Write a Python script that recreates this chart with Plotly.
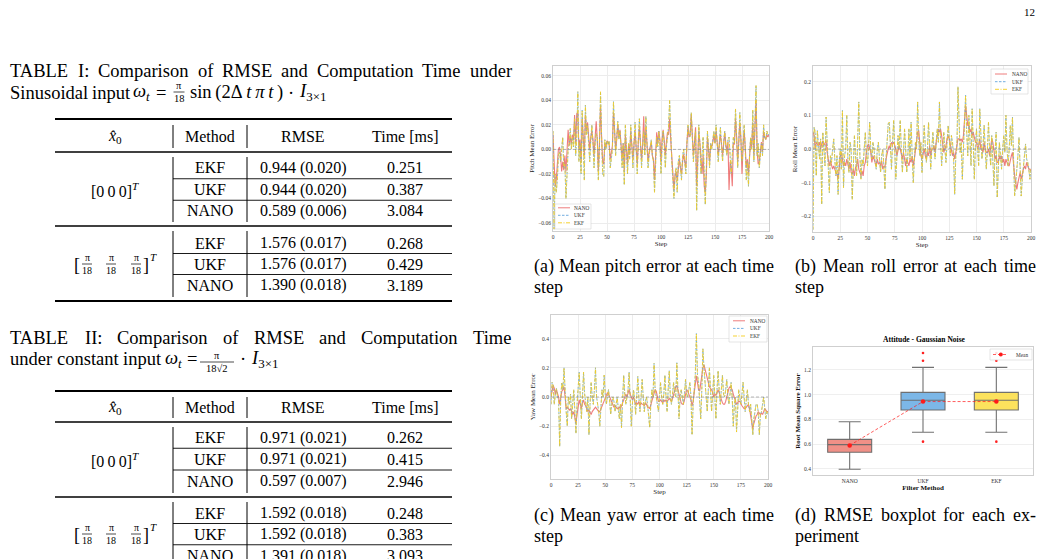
import plotly.graph_objects as go

W, H = 1041, 559
SERIF = "Liberation Serif, Times New Roman, Times, serif"

# ======================= DATA =======================
steps = list(range(201))

pitch_nano = [
    0.012, -0.02, -0.03, -0.025, -0.015, 0.0, 0.002, -0.005, -0.018, -0.01,
    -0.017, -0.005, -0.018, 0.0, 0.016, 0.003, 0.01, 0.005, 0.012, 0.008,
    0.028, 0.005, 0.029, 0.03, 0.0, 0.008, -0.01, 0.025, 0.01, -0.005,
    0.028, 0.015, 0.022, 0.008, 0.0, 0.01, 0.015, 0.008, -0.005, 0.01,
    0.023, 0.008, -0.018, 0.005, 0.035, 0.01, -0.01, -0.012, 0.005, 0.002,
    0.007, 0.006, 0.004, -0.008, -0.002, 0.003, 0.03, 0.015, 0.0, 0.008,
    0.02, 0.01, 0.016, 0.004, -0.008, 0.005, -0.018, 0.012, 0.002, -0.012,
    0.004, -0.004, 0.015, 0.005, -0.008, 0.004, 0.015, 0.002, -0.012, 0.006,
    0.018, 0.005, -0.008, 0.004, 0.027, 0.0, 0.018, 0.005, -0.01, -0.002,
    0.002, 0.006, -0.005, -0.008, -0.025, -0.005, 0.014, 0.005, 0.015, 0.008,
    -0.01, 0.008, 0.016, 0.007, -0.005, 0.006, 0.014, 0.012, 0.025, 0.008,
    -0.008, -0.02, -0.033, -0.022, -0.018, -0.025, -0.012, -0.008, -0.015, -0.02,
    -0.01, -0.004, -0.01, -0.015, 0.005, 0.018, 0.01, 0.012, 0.028, 0.012,
    -0.005, 0.006, 0.018, -0.03, -0.008, 0.015, 0.005, -0.012, -0.02, -0.005,
    -0.03, -0.035, -0.02, 0.01, 0.002, -0.01, 0.004, 0.002, 0.006, 0.012,
    0.005, 0.015, 0.006, -0.005, 0.004, 0.012, 0.005, -0.005, 0.004, 0.014,
    0.005, -0.002, 0.006, -0.033, -0.01, -0.015, -0.03, 0.005, 0.004, 0.025,
    0.01, -0.01, 0.006, 0.022, 0.008, -0.02, 0.002, 0.015, 0.002, -0.015,
    -0.008, -0.02, -0.006, 0.008, 0.002, 0.022, -0.005, 0.012, 0.04, -0.002,
    -0.012, -0.01, 0.0, 0.006, -0.002, 0.015, 0.01, 0.008, 0.012, 0.01,
    0.012,
]
pitch_ekf = [
    0.015, -0.065, -0.02, -0.035, -0.025, -0.005, -0.002, -0.01, 0.0, 0.01,
    -0.015, -0.012, -0.04, -0.01, 0.0, 0.005, 0.017, 0.0, 0.01, 0.002,
    0.025, -0.005, 0.01, 0.047, -0.01, 0.005, -0.02, 0.032, 0.005, -0.025,
    0.036, 0.012, 0.02, 0.005, -0.01, 0.008, 0.02, 0.005, -0.015, 0.005,
    0.013, 0.01, -0.025, 0.002, 0.047, 0.01, -0.02, -0.022, 0.008, 0.0,
    0.007, 0.004, 0.007, -0.015, -0.005, 0.0, 0.039, 0.015, -0.005, 0.01,
    0.023, 0.008, 0.015, 0.002, -0.015, 0.005, -0.029, 0.02, 0.0, -0.02,
    0.005, -0.008, 0.02, 0.003, -0.015, 0.005, 0.022, 0.0, -0.02, 0.008,
    0.025, 0.005, -0.015, 0.002, 0.015, -0.005, 0.027, 0.005, -0.015, -0.005,
    0.0, 0.008, -0.005, -0.01, -0.035, -0.008, 0.01, 0.002, 0.015, 0.005,
    -0.02, 0.003, 0.015, 0.005, -0.015, 0.002, 0.01, 0.018, 0.04, 0.01,
    -0.01, -0.025, -0.04, -0.02, -0.015, -0.035, -0.01, -0.005, -0.015, -0.025,
    -0.005, 0.0, -0.01, -0.02, 0.005, 0.02, 0.012, 0.01, 0.03, 0.012,
    -0.01, 0.005, 0.015, -0.05, -0.01, 0.02, 0.005, -0.02, -0.005, 0.01,
    -0.02, -0.045, -0.015, 0.015, 0.0, -0.015, 0.005, 0.0, 0.008, 0.015,
    0.005, 0.02, 0.005, -0.01, 0.005, 0.018, 0.003, -0.01, 0.005, 0.015,
    0.002, -0.005, 0.008, 0.01, -0.005, -0.02, -0.005, 0.01, 0.005, 0.033,
    0.01, -0.015, 0.005, 0.03, 0.008, -0.01, 0.005, 0.02, 0.0, -0.025,
    -0.01, -0.03, -0.005, 0.01, 0.0, 0.032, -0.01, 0.015, 0.052, -0.005,
    0.005, -0.015, 0.0, 0.005, -0.005, 0.02, 0.01, 0.008, 0.015, 0.012,
    0.012,
]
# UKF and EKF estimates coincide in this experiment (identical RMSE in the tables)
pitch_ukf = list(pitch_ekf)

roll_nano = [
    0.05, 0.04, 0.0, 0.02, 0.015, 0.01, 0.02, 0.0, 0.015, 0.025,
    0.01, 0.02, 0.025, -0.01, -0.04, -0.05, -0.035, -0.045, -0.06, -0.05,
    -0.065, -0.07, -0.075, -0.09, -0.06, -0.02, -0.01, -0.03, -0.05, -0.04,
    -0.05, -0.03, -0.045, -0.06, -0.04, -0.07, -0.075, -0.06, -0.08, -0.055,
    -0.05, -0.03, -0.06, -0.07, -0.08, -0.065, -0.08, -0.05, -0.04, -0.01,
    0.01, 0.015, 0.0, -0.01, -0.04, -0.02, -0.03, -0.045, -0.05, -0.03,
    -0.045, -0.04, -0.05, -0.035, -0.06, -0.05, -0.055, -0.03, -0.01, 0.0,
    0.01, 0.0, 0.02, 0.015, 0.02, 0.01, 0.0, -0.02, 0.0, 0.01,
    0.0, -0.02, -0.03, -0.01, -0.04, -0.05, -0.03, -0.04, -0.05, -0.03,
    -0.04, -0.02, -0.05, -0.03, 0.0, 0.02, 0.05, 0.055, 0.02, -0.02,
    -0.03, -0.01, 0.0, -0.02, -0.03, -0.01, -0.02, 0.01, -0.02, 0.0,
    0.0, 0.01, -0.01, 0.02, 0.04, 0.06, 0.05, 0.06, 0.04, 0.02,
    -0.01, 0.0, 0.01, 0.03, 0.04, 0.03, 0.01, 0.0, -0.02, -0.01,
    -0.03, -0.01, 0.02, 0.03, 0.03, 0.025, 0.03, 0.02, 0.04, 0.09,
    0.13, 0.1, 0.07, 0.07, 0.05, 0.06, 0.04, 0.05, 0.03, 0.02,
    0.02, 0.0, 0.01, 0.03, 0.0, 0.0, -0.01, 0.02, 0.0, -0.01,
    -0.01, 0.0, -0.02, 0.01, 0.03, 0.02, -0.01, -0.03, -0.02, -0.04,
    -0.04, -0.02, -0.03, -0.02, -0.04, -0.03, -0.05, -0.03, -0.04, -0.05,
    -0.05, -0.03, -0.02, -0.01, -0.06, -0.08, -0.1, -0.12, -0.1, -0.08,
    -0.07, -0.09, -0.07, -0.06, -0.05, -0.06, -0.04, -0.05, -0.06, -0.06,
    -0.065,
]
roll_ekf = [
    -0.24, 0.065, 0.05, -0.08, 0.055, 0.02, -0.03, 0.03, -0.165, 0.05,
    0.01, -0.05, 0.095, 0.02, -0.05, -0.13, -0.02, -0.04, 0.0, 0.03,
    -0.03, -0.08, -0.02, -0.135, -0.04, 0.0, -0.06, 0.115, -0.115, -0.02,
    0.0, 0.1, -0.03, -0.07, 0.02, 0.0, -0.15, -0.03, 0.04, -0.02,
    -0.08, 0.03, 0.14, -0.02, -0.09, -0.03, -0.05, 0.0, 0.05, -0.02,
    -0.05, 0.01, 0.08, 0.0, -0.03, 0.02, 0.0, -0.04, -0.06, 0.0,
    0.02, -0.03, -0.07, -0.02, 0.0, -0.05, -0.12, -0.03, 0.02, 0.075,
    0.08, 0.0, -0.06, 0.02, 0.085, 0.0, -0.09, -0.02, 0.04, 0.0,
    0.085, 0.0, -0.07, -0.01, 0.06, 0.0, -0.07, -0.02, 0.06, -0.03,
    0.08, -0.02, -0.1, -0.03, 0.02, 0.0, 0.14, 0.03, -0.02, 0.02,
    -0.07, 0.0, 0.07, 0.01, -0.04, 0.0, 0.08, 0.01, -0.06, 0.0,
    0.05, 0.0, -0.03, 0.02, 0.06, 0.02, 0.14, 0.03, -0.05, 0.0,
    0.05, 0.0, -0.04, 0.02, 0.07, 0.03, -0.02, 0.04, 0.02, -0.03,
    -0.135, -0.02, 0.0, 0.185, 0.05, -0.01, 0.02, -0.09, 0.0, 0.08,
    0.16, 0.05, -0.02, 0.1, 0.02, -0.05, 0.12, 0.0, -0.09, 0.01,
    0.06, 0.0, -0.05, 0.12, 0.03, -0.03, 0.01, 0.07, 0.0, -0.06,
    0.0, 0.08, 0.0, -0.05, 0.04, -0.02, -0.11, -0.01, 0.05, -0.145,
    -0.03, 0.02, -0.02, -0.06, 0.0, 0.04, -0.01, 0.1, 0.0, -0.05,
    0.0, 0.07, 0.01, 0.095, -0.03, -0.14, -0.1, -0.07, -0.02, 0.035,
    -0.05, -0.14, -0.09, -0.05, -0.02, 0.015, -0.03, -0.04, -0.06, -0.09,
    -0.06,
]
roll_ukf = list(roll_ekf)

yaw_nano = [
    0.0, 0.05, 0.08, 0.06, 0.02, 0.05, 0.03, 0.0, -0.05, 0.0,
    0.04, 0.05, 0.07, 0.0, -0.08, -0.07, -0.08, -0.09, -0.08, -0.1,
    -0.12, -0.1, -0.14, -0.18, -0.12, -0.06, -0.02, -0.05, -0.08, -0.04,
    -0.02, -0.05, -0.06, -0.08, -0.1, -0.09, -0.11, -0.12, -0.1, -0.09,
    -0.08, -0.07, -0.08, -0.09, -0.1, -0.1, -0.08, -0.06, -0.05, -0.02,
    0.0, 0.02, 0.03, 0.02, 0.0, -0.02, -0.04, -0.06, -0.07, -0.06,
    -0.07, -0.08, -0.08, -0.07, -0.08, -0.05, -0.04, -0.02, 0.0, 0.02,
    0.0, 0.03, 0.05, 0.02, 0.0, -0.02, 0.0, -0.03, -0.05, -0.04,
    -0.05, -0.03, -0.06, -0.04, -0.05, -0.05, -0.06, -0.04, -0.05, -0.07,
    -0.07, -0.08, -0.05, -0.02, 0.0, 0.03, 0.05, 0.04, 0.0, -0.03,
    -0.03, -0.02, -0.03, -0.04, -0.02, -0.03, -0.02, -0.03, -0.02, -0.01,
    -0.02, -0.03, -0.01, 0.02, 0.05, 0.07, 0.08, 0.05, 0.03, -0.02,
    -0.04, -0.05, -0.05, -0.02, 0.03, 0.05, 0.04, 0.02, 0.0, -0.02,
    -0.06, -0.03, 0.03, 0.08, 0.145, 0.1, 0.05, 0.04, 0.1, 0.15,
    0.2, 0.22, 0.19, 0.15, 0.12, 0.08, 0.07, 0.06, 0.05, 0.03,
    0.0, 0.02, 0.01, 0.03, 0.05, 0.03, 0.0, -0.02, -0.04, -0.05,
    -0.05, -0.03, 0.0, 0.04, 0.06, 0.07, 0.06, 0.05, 0.02, 0.0,
    -0.03, -0.05, -0.04, -0.03, -0.03, -0.05, -0.06, -0.07, -0.08, -0.08,
    -0.07, -0.06, -0.05, -0.08, -0.12, -0.17, -0.22, -0.18, -0.15, -0.13,
    -0.12, -0.1, -0.11, -0.12, -0.11, -0.12, -0.1, -0.08, -0.09, -0.1,
    -0.1,
]
yaw_ekf = [
    -0.05, 0.1, 0.08, -0.05, 0.02, 0.06, 0.0, -0.02, -0.34, 0.0,
    0.1, 0.05, 0.2, 0.0, -0.1, -0.2, 0.0, -0.05, 0.02, -0.15,
    -0.05, 0.05, -0.1, -0.25, -0.05, 0.05, 0.17, 0.0, -0.15, 0.0,
    0.17, 0.02, -0.05, -0.1, 0.0, -0.26, -0.05, 0.1, 0.0, -0.05,
    0.05, 0.2, 0.0, -0.05, -0.1, -0.2, -0.05, 0.05, 0.0, 0.15,
    0.02, -0.05, 0.0, 0.05, -0.02, -0.12, -0.05, 0.0, -0.03, -0.1,
    -0.05, 0.0, -0.08, -0.15, -0.05, -0.21, -0.02, 0.15, 0.02, -0.05,
    0.0, 0.05, 0.17, 0.0, -0.2, -0.05, 0.05, 0.0, -0.12, 0.0,
    0.14, 0.0, -0.1, 0.0, 0.12, 0.0, -0.1, -0.03, 0.0, -0.05,
    -0.15, -0.21, -0.05, 0.05, 0.0, 0.23, 0.05, 0.0, -0.05, -0.1,
    0.0, 0.1, 0.0, -0.05, 0.02, 0.15, 0.0, -0.1, 0.05, 0.18,
    0.0, -0.05, 0.02, 0.1, 0.02, 0.0, 0.235, 0.05, -0.15, 0.0,
    0.05, 0.0, -0.05, 0.02, 0.12, 0.02, 0.0, 0.05, 0.1, 0.0,
    -0.26, -0.05, 0.05, 0.15, 0.435, 0.15, 0.1, 0.0, -0.15, 0.05,
    0.33, 0.2, 0.1, 0.0, -0.1, 0.05, 0.2, 0.05, -0.1, 0.02,
    0.15, 0.0, -0.15, 0.05, 0.18, 0.05, -0.05, 0.05, 0.15, 0.02,
    0.0, 0.05, 0.12, 0.0, -0.05, 0.02, 0.1, 0.0, -0.2, -0.05,
    0.0, -0.24, -0.05, 0.05, 0.0, -0.05, 0.02, 0.1, 0.0, -0.1,
    -0.02, 0.05, -0.05, -0.1, -0.05, -0.15, -0.26, -0.15, -0.1, -0.05,
    -0.05, -0.1, -0.26, -0.12, -0.1, -0.05, 0.0, -0.08, -0.15, -0.1,
    -0.12,
]
yaw_ukf = list(yaw_ekf)

series_names = ["NANO", "UKF", "EKF"]

box_methods = ["NANO", "UKF", "EKF"]
box_q1 = [0.533, 0.875, 0.875]
box_median = [0.595, 0.955, 0.955]
box_q3 = [0.638, 1.018, 1.018]
box_lower = [0.395, 0.695, 0.695]
box_upper = [0.781, 1.221, 1.221]
box_mean = [0.589, 0.944, 0.944]
ukf_outliers = [1.337, 1.275, 0.619]
ekf_outliers = [1.337, 1.275, 0.619]

table_methods = ["EKF", "UKF", "NANO"]
table1_rmse_g1 = ["0.944 (0.020)", "0.944 (0.020)", "0.589 (0.006)"]
table1_time_g1 = ["0.251", "0.387", "3.084"]
table1_rmse_g2 = ["1.576 (0.017)", "1.576 (0.017)", "1.390 (0.018)"]
table1_time_g2 = ["0.268", "0.429", "3.189"]
table2_rmse_g1 = ["0.971 (0.021)", "0.971 (0.021)", "0.597 (0.007)"]
table2_time_g1 = ["0.262", "0.415", "2.946"]
table2_rmse_g2 = ["1.592 (0.018)", "1.592 (0.018)", "1.391 (0.018)"]
table2_time_g2 = ["0.248", "0.383", "3.093"]

# ======================= HELPERS =======================
def px(x):
    return x / W


def py(y):
    return 1 - y / H


annotations = []
shapes = []


def text(x, y, s, size=16, anchor="left", color="black", yanchor="middle"):
    annotations.append(dict(
        x=px(x), y=py(y), xref="paper", yref="paper", text=s, showarrow=False,
        xanchor=anchor, yanchor=yanchor, borderpad=0,
        font=dict(family=SERIF, size=size, color=color)))


def hline(x0, x1, y, w=1.0, color="black", dash=None):
    ln = dict(color=color, width=w)
    if dash:
        ln["dash"] = dash
    shapes.append(dict(type="line", xref="paper", yref="paper",
                       x0=px(x0), x1=px(x1), y0=py(y), y1=py(y), line=ln, layer="above"))


def vline(x, y0, y1, w=1.0, color="black"):
    shapes.append(dict(type="line", xref="paper", yref="paper",
                       x0=px(x), x1=px(x), y0=py(y0), y1=py(y1),
                       line=dict(color=color, width=w), layer="above"))


TW = {' ': .25, '(': .333, ')': .333, 'a': .444, 'b': .5, 'c': .444, 'd': .5, 'e': .444,
      'f': .333, 'g': .5, 'h': .5, 'i': .278, 'j': .278, 'k': .5, 'l': .278, 'm': .778,
      'n': .5, 'o': .5, 'p': .5, 'q': .5, 'r': .333, 's': .389, 't': .278, 'u': .5,
      'v': .5, 'w': .722, 'x': .5, 'y': .5, 'z': .444, '-': .333, ':': .278,
      'A': .722, 'B': .667, 'C': .667, 'D': .722, 'E': .611, 'F': .556, 'G': .722,
      'H': .722, 'I': .333, 'L': .611, 'M': .889, 'N': .722, 'O': .722, 'R': .667,
      'S': .556, 'T': .611, 'U': .722}


def tw(s, size):
    return sum(TW.get(c, 0.5) for c in s) * size


def justify(line, x0, x1, y, size):
    words = line.split(" ")
    total = sum(tw(w, size) for w in words)
    gap = (x1 - x0 - total) / (len(words) - 1)
    x = x0
    for w in words:
        text(x, y, w, size)
        x += tw(w, size) + gap


def frac(xc, yc, num, den, size, half):
    text(xc, yc - size * 0.62, num, size, "center")
    text(xc, yc + size * 0.62, den, size, "center")
    hline(xc - half, xc + half, yc, w=0.7)


# ======================= PAGE TEXT =======================
text(1036, 12, "12", 11, "right")

CAP = 18.5
justify("TABLE I: Comparison of RMSE and Computation Time under", 9, 511, 71, CAP)
text(9, 93, "Sinusoidal", CAP)
text(91, 93, "input", CAP)
text(132, 93, "<i>ω</i><sub><i>t</i></sub>", CAP)
text(155, 93, "=", CAP)
frac(179, 92, "π", "18", 10.5, 5.5)
text(189, 93, "sin\u2009(2Δ\u2009<i>t</i>\u2009<i>π</i>\u2009<i>t</i>\u2009)", CAP)
text(291, 93, "·", CAP, "center")
text(298, 93, "<i>I</i><sub>3×1</sub>", CAP)

justify("TABLE II: Comparison of RMSE and Computation Time", 9, 511, 338, CAP)
text(9, 359, "under", CAP)
text(56, 359, "constant", CAP)
text(122, 359, "input", CAP)
text(164, 359, "<i>ω</i><sub><i>t</i></sub>", CAP)
text(186, 359, "=", CAP)
frac(217, 362, "π", "18√2", 10.5, 17)
text(243, 359, "·", CAP, "center")
text(250, 359, "<i>I</i><sub>3×1</sub>", CAP)

# ======================= TABLES =======================
TF = 16
XL, XR, VS1, VS2 = 55, 452, 173, 247
C0, C1, C2, C3 = 115, 210, 303, 405


def draw_table(top, head, hrule, rows1, grule, rows2, bottom, rm1, tm1, rm2, tm2):
    hline(XL, XR, top, 2.0)
    hline(XL, XR, hrule, 1.3)
    hline(XL, XR, grule, 1.3)
    if bottom < H + 10:
        hline(XL, XR, bottom, 2.0)
    text(C0, head, "<i>x̂</i><sub>0</sub>", TF, "center")
    text(C1, head, "Method", TF, "center")
    text(C2, head, "RMSE", TF, "center")
    text(C3, head, "Time [ms]", TF, "center")
    for vx in (VS1, VS2):
        vline(vx, top + 6, hrule - 4)
        vline(vx, hrule + 5, grule - 4)
        vline(vx, grule + 5, min(bottom - 4, H))
    for rows, rm, tm in ((rows1, rm1, tm1), (rows2, rm2, tm2)):
        for i, yy in enumerate(rows):
            text(C1, yy, table_methods[i], TF, "center")
            text(C2, yy, rm[i], TF, "center")
            text(C3, yy, tm[i], TF, "center")
        for a, b in zip(rows[:-1], rows[1:]):
            hline(VS1, XR, (a + b) / 2, 0.9)
    m1 = rows1[1]
    text(C0, m1 + 1, "[0\u20090\u20090]<sup><i>T</i></sup>", TF, "center")
    m2 = rows2[1]
    text(77, m2 + 1, "[", TF + 2, "center")
    for fx in (87, 111, 136):
        frac(fx, m2, "π", "18", 10, 5)
    text(146, m2 + 1, "]", TF + 2, "center")
    text(153, m2 - 7, "<i>T</i>", 11, "center")


draw_table(119, 136, 152, [168, 189.5, 211], 226, [243, 264, 285], 301,
           table1_rmse_g1, table1_time_g1, table1_rmse_g2, table1_time_g2)
draw_table(391, 407, 422, [437.5, 459, 481], 497, [513, 534, 555.5], 573,
           table2_rmse_g1, table2_time_g1, table2_rmse_g2, table2_time_g2)

# ======================= SUB-FIGURE CAPTIONS =======================
SC = 18
justify("(a) Mean pitch error at each time", 533, 773, 266, SC)
text(533, 287, "step", SC)
justify("(b) Mean roll error at each time", 794, 1035, 266, SC)
text(794, 287, "step", SC)
justify("(c) Mean yaw error at each time", 533, 773, 515, SC)
text(533, 536, "step", SC)
justify("(d) RMSE boxplot for each ex-", 794, 1035, 515, SC)
text(794, 536, "periment", SC)

# ======================= LINE CHARTS =======================
fig = go.Figure()

C_NANO = "rgba(232,80,80,0.75)"
C_UKF = "rgba(90,160,220,0.85)"
C_EKF = "rgba(245,205,30,0.9)"
series_colors = [C_NANO, C_UKF, C_EKF]
series_dashes = ["solid", "2.5px,1.5px", "4px,1.5px,1px,1.5px"]
series_widths = [1.1, 0.9, 0.9]

panels = [
    ("x", "y", [pitch_nano, pitch_ukf, pitch_ekf]),
    ("x2", "y2", [roll_nano, roll_ukf, roll_ekf]),
    ("x3", "y3", [yaw_nano, yaw_ukf, yaw_ekf]),
]
for xa, ya, ser in panels:
    for name, vals, col, dsh, lw in zip(series_names, ser, series_colors, series_dashes, series_widths):
        fig.add_trace(go.Scatter(x=steps, y=vals, xaxis=xa, yaxis=ya, mode="lines", name=name,
                                 line=dict(color=col, width=lw, dash=dsh), showlegend=False,
                                 hoverinfo="skip"))

TICKF = dict(family=SERIF, size=5.5, color="#333333")
TITF = dict(family=SERIF, size=7, color="#222222")


def xax(dom, anchor):
    return dict(domain=[px(dom[0]), px(dom[1])], anchor=anchor, range=[0, 200], dtick=25, tick0=0,
                showgrid=True, gridcolor="#ececec", gridwidth=0.6, zeroline=False,
                showline=True, linecolor="#cfcfcf", linewidth=1, mirror=True, ticks="",
                tickfont=TICKF, automargin=False,
                title=dict(text="Step", font=TITF, standoff=1))


def yax(dom, anchor, rng, dt, fmt, title):
    return dict(domain=[py(dom[1]), py(dom[0])], anchor=anchor, range=rng, dtick=dt, tick0=0,
                tickformat=fmt, showgrid=True, gridcolor="#ececec", gridwidth=0.6, zeroline=False,
                showline=True, linecolor="#cfcfcf", linewidth=1, mirror=True, ticks="",
                tickfont=TICKF, automargin=False,
                title=dict(text=title, font=TITF, standoff=2))


layout_axes = dict(
    xaxis=xax((553, 769), "y"),
    yaxis=yax((66, 231), "x", [-0.0665, 0.068], 0.02, ".2f", "Pitch Mean Error"),
    xaxis2=xax((813, 1031), "y2"),
    yaxis2=yax((66, 232), "x2", [-0.247, 0.247], 0.1, ".1f", "Roll Mean Error"),
    xaxis3=xax((551, 768), "y3"),
    yaxis3=yax((315, 479), "x3", [-0.562, 0.562], 0.2, ".1f", "Yaw Mean Error"),
)

# dashed reference line at zero error in each line chart
for xa, ya, ser in panels:
    fig.add_trace(go.Scatter(x=[steps[0], steps[-1]], y=[0, 0], xaxis=xa, yaxis=ya, mode="lines",
                             line=dict(color="rgba(130,130,130,0.7)", width=0.8, dash="3px,2px"),
                             showlegend=False, hoverinfo="skip"))

# ======================= BOX PLOT =======================
box_fills = ["rgba(238,132,122,0.9)", "rgba(110,175,228,0.9)", "rgba(252,223,75,0.9)"]
for m, q1, med, q3, lo, hi, fc in zip(box_methods, box_q1, box_median, box_q3,
                                        box_lower, box_upper, box_fills):
    fig.add_trace(go.Box(x=[m], q1=[q1], median=[med], q3=[q3], lowerfence=[lo], upperfence=[hi],
                         xaxis="x4", yaxis="y4", fillcolor=fc, width=0.6, whiskerwidth=0.5,
                         line=dict(color="rgba(105,105,105,0.95)", width=1.1),
                         boxpoints=False, showlegend=False, hoverinfo="skip"))

fig.add_trace(go.Scatter(x=["UKF"] * len(ukf_outliers) + ["EKF"] * len(ekf_outliers),
                         y=ukf_outliers + ekf_outliers, xaxis="x4", yaxis="y4", mode="markers",
                         marker=dict(color="#ff2020", size=2.6), showlegend=False, hoverinfo="skip"))
fig.add_trace(go.Scatter(x=box_methods, y=box_mean, xaxis="x4", yaxis="y4", mode="lines+markers",
                         name="Mean", line=dict(color="rgba(255,30,30,0.9)", width=0.8, dash="3px,2px"),
                         marker=dict(color="#ff1a1a", size=4.5), showlegend=False, hoverinfo="skip"))

BTITF = dict(family=SERIF, size=7, color="#111111")
layout_axes["xaxis4"] = dict(domain=[px(813), px(1033)], anchor="y4", type="category",
                             categoryorder="array", categoryarray=box_methods, range=[-0.5, 2.5],
                             showgrid=False, zeroline=False, showline=True, linecolor="#cfcfcf",
                             linewidth=1, mirror=True, ticks="", tickfont=TICKF, automargin=False,
                             title=dict(text="<b>Filter Method</b>", font=BTITF, standoff=1))
layout_axes["yaxis4"] = dict(domain=[py(475), py(347)], anchor="x4", range=[0.349, 1.386],
                             dtick=0.2, tick0=0, tickformat=".1f", showgrid=True,
                             gridcolor="#efefef", gridwidth=0.6, zeroline=False, showline=True,
                             linecolor="#cfcfcf", linewidth=1, mirror=True, ticks="",
                             tickfont=TICKF, automargin=False,
                             title=dict(text="<b>Root Mean Square Error</b>", font=BTITF, standoff=2))
text(924, 339, "<b>Attitude - Gaussian Noise</b>", 7.5, "center")

# ======================= LEGENDS (drawn as layout decorations) =======================
def legend_box(x0, y0, x1, y1):
    shapes.append(dict(type="rect", xref="paper", yref="paper", x0=px(x0), x1=px(x1),
                       y0=py(y1), y1=py(y0), line=dict(color="#d4d4d4", width=0.6),
                       fillcolor="rgba(255,255,255,0.85)", layer="above"))


def series_legend(box, line_x, text_x, ys):
    legend_box(*box)
    for name, col, dsh, yy in zip(series_names, series_colors, series_dashes, ys):
        hline(line_x[0], line_x[1], yy, 1.0, col, None if dsh == "solid" else dsh)
        text(text_x, yy, name, 5.3, color="#333333")


series_legend((555, 204, 591, 229), (558, 570), 573, (207.8, 215.3, 222.8))
series_legend((991, 69, 1028, 94), (995, 1007), 1011, (74, 81.7, 89.3))
series_legend((729, 316, 767, 342), (733, 745), 749, (320.8, 328.4, 336))

legend_box(990, 349, 1032, 360)
hline(993, 1008, 354.5, 0.8, "rgba(255,30,30,0.9)", "3px,2px")
shapes.append(dict(type="circle", xref="paper", yref="paper", x0=px(998.8), x1=px(1002.8),
                   y0=py(356.5), y1=py(352.5), fillcolor="#ff1a1a", line=dict(width=0),
                   layer="above"))
text(1015, 354.5, "Mean", 5.3, color="#333333")

fig.update_layout(
    width=W, height=H, autosize=False,
    margin=dict(l=0, r=0, t=0, b=0, pad=0),
    paper_bgcolor="white", plot_bgcolor="white",
    showlegend=False, boxmode="overlay",
    annotations=annotations, shapes=shapes,
    **layout_axes,
)

fig.write_html("out.html", include_plotlyjs=True, config={"displayModeBar": False})
